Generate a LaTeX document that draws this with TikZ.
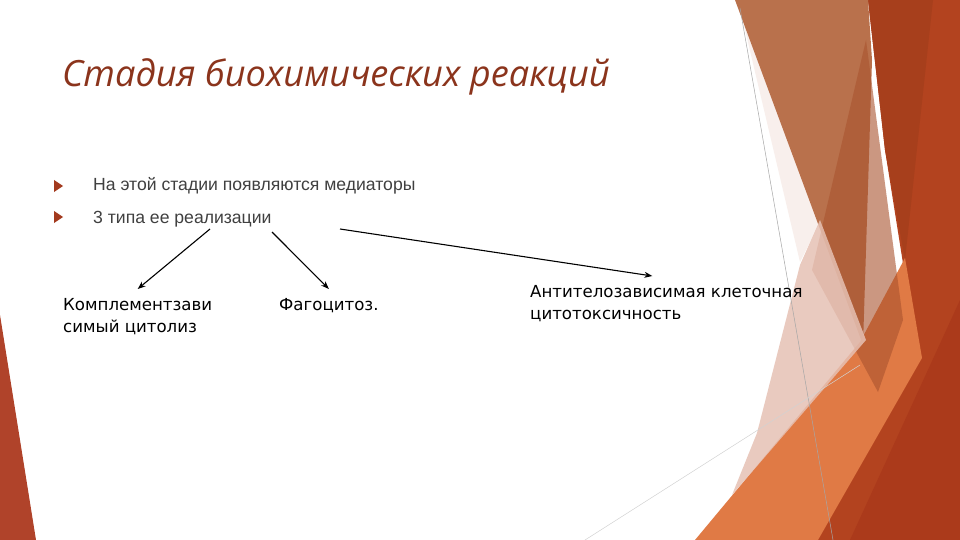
\documentclass[tikz,border=0pt]{standalone}
\usepackage{fontspec}
\setmainfont{Liberation Sans}
\newfontfamily\headfont{Open Sans}
\newfontfamily\kindfont{DejaVu Sans}
\usetikzlibrary{positioning,arrows.meta}

\definecolor{headred}{HTML}{8B341C}
\definecolor{bulletred}{HTML}{A33A1E}
\definecolor{bodygray}{HTML}{404040}
\definecolor{stripred}{HTML}{B0432A}
\definecolor{rustbase}{HTML}{B3431F}
\definecolor{rustdark}{HTML}{A73F1C}
\definecolor{rustdeep}{HTML}{AB3A1B}
\definecolor{tanbrown}{HTML}{B9714C}
\definecolor{midbrown}{HTML}{A9532E}
\definecolor{palepink}{HTML}{E6C1B4}
\definecolor{facetorange}{HTML}{E07A45}

\begin{document}
\begin{tikzpicture}[x=1pt,y=-1pt,
	item/.style={anchor=base west,inner sep=0pt,text=bodygray,font=\fontsize{17.6}{20}\selectfont},
	kind/.style={anchor=north west,align=left,inner sep=0pt,outer ysep=9pt,font=\kindfont\fontsize{16.6}{22.5}\selectfont},
	link/.style={-{Stealth[length=8pt,width=6pt]},line width=1.1pt}]
	\useasboundingbox (0,0) rectangle (960,540);
	\fill[white] (0,0) rectangle (960,540);

	% facets
	\fill[stripred] (0,315) -- (36,540) -- (0,540) -- cycle;
	\fill[rustbase] (868,0) -- (960,0) -- (960,540) -- (815,540) -- (918,358) -- (885,150) -- cycle;
	\fill[rustdark] (868,0) -- (933,0) -- (905,260) -- (885,150) -- cycle;
	\fill[rustdeep] (960,300) -- (960,540) -- (850,540) -- cycle;
	\fill[palepink, opacity=.25] (738,0) -- (820,222) -- (800,262) -- cycle;
	\fill[tanbrown] (735,0) -- (868,0) -- (872,60) -- (863,345) -- cycle;
	\fill[facetorange] (695,540) -- (860,342) -- (905,258) -- (922,358) -- (818,540) -- cycle;
	\fill[midbrown, opacity=.6] (866,40) -- (903,320) -- (878,392) -- (812,270) -- cycle;
	\fill[palepink, opacity=.85] (820,220) -- (866,340) -- (732,495) -- (757,433) -- (800,265) -- cycle;
	\draw[gray!70, line width=.5pt] (740,8) -- (833,540);
	\draw[gray!35, line width=.5pt] (585,540) -- (860,365);

	% title and bullets
	\node[anchor=base west, inner sep=0pt, text=headred, font=\headfont\itshape\fontsize{36.2}{40}\selectfont] (head) at (62,87) {Стадия биохимических реакций};
	\fill[bulletred] (54,180) -- (63,186) -- (54,192) -- cycle;
	\fill[bulletred] (54,211) -- (63,217) -- (54,223) -- cycle;
	\node[item] (stage) at (93,190) {На этой стадии появляются медиаторы};
	\node[item] (types) at (93,223) {3 типа ее реализации};

	% three ways
	\node[kind] (lysis) at (63,289) {Комплементзави\\симый цитолиз};
	\node[kind] (phago) at (279,289) {Фагоцитоз.};
	\node[kind] (adcc) at (530,276) {Антителозависимая клеточная\\цитотоксичность};

	\coordinate (from1) at (210,229);
	\coordinate (from2) at (272,232);
	\coordinate (from3) at (340,229);
	\draw[link] (from1) -- (lysis.north);
	\draw[link] (from2) -- (phago.north);
	\draw[link] (from3) -- ([xshift=-14pt]adcc.north);
\end{tikzpicture}
\end{document}
